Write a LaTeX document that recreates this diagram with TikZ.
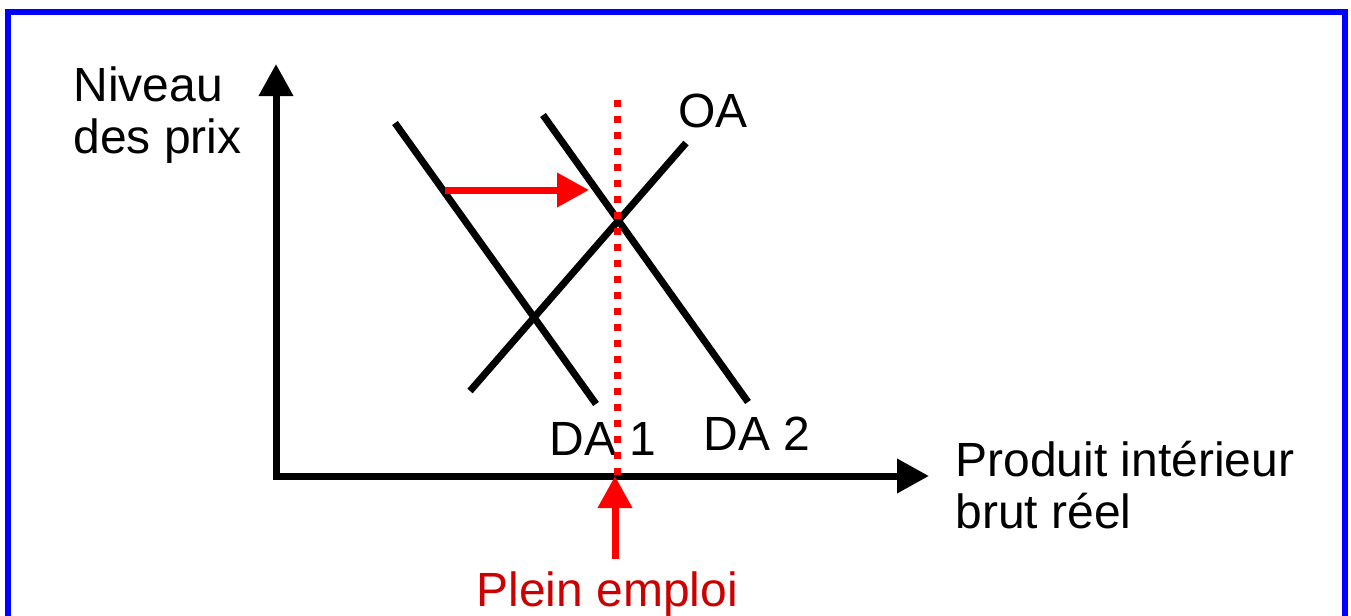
\documentclass[tikz,border=0pt]{standalone}
\usepackage{fontspec}
\setmainfont{Liberation Sans}
\usetikzlibrary{arrows.meta}
\begin{document}
\begin{tikzpicture}[x=0.5pt,y=-0.5pt,
  lbl/.style={anchor=base west,inner sep=0pt,font=\fontsize{24}{26}\selectfont,align=left},
  curve/.style={line width=3.5pt,black},
  axis/.style={line width=3.5pt,black,line join=miter,{Triangle[length=16pt,width=16.5pt]}-{Triangle[length=16pt,width=16.5pt]}},
  redarrow/.style={line width=3.5pt,red,-{Triangle[length=16pt,width=16.5pt]}},
  fulldots/.style={line width=3.5pt,red,dash pattern=on 3.5pt off 4.5pt}]
\useasboundingbox (0,0) rectangle (1351,616);
% frame
\draw[blue,line width=3pt,line join=miter] (8,620) -- (8,12) -- (1345,12) -- (1345,620);
% coordinates
\coordinate (O) at (276,476);
\coordinate (ytip) at (276,64);
\coordinate (xtip) at (929,476);
\coordinate (da1a) at (395,123);
\coordinate (da1b) at (596,404);
\coordinate (da2a) at (543,115);
\coordinate (da2b) at (748,402);
\coordinate (oaa) at (470,391);
\coordinate (oab) at (686,143);
\coordinate (pe1) at (617,100);
\coordinate (pe2) at (617,478);
\coordinate (sh1) at (445,190);
\coordinate (sh2) at (589,190);
\coordinate (up1) at (615,559);
\coordinate (up2) at (615,476);
% axes
\draw[axis] (ytip) -- (O) -- (xtip);
% curves
\draw[curve] (da1a) -- (da1b);
\draw[curve] (da2a) -- (da2b);
\draw[curve] (oaa) -- (oab);
% labels
\node[lbl] (ylab) at (73,153) {Niveau\\des prix};
\node[lbl] (oalab) at (678,127) {OA};
\node[lbl] (da1lab) at (549,455) {DA 1};
\node[lbl] (da2lab) at (703,450) {DA 2};
\node[lbl] (xlab) at (955,528) {Produit intérieur\\brut réel};
\node[lbl,text={rgb,255:red,204;green,0;blue,0}] (pelab) at (476,606) {Plein emploi};
% dotted full-employment line
\draw[fulldots] (pe1) -- (pe2);
% red arrows
\draw[redarrow] (sh1) -- (sh2);
\draw[redarrow] (up1) -- (up2);
\end{tikzpicture}
\end{document}
